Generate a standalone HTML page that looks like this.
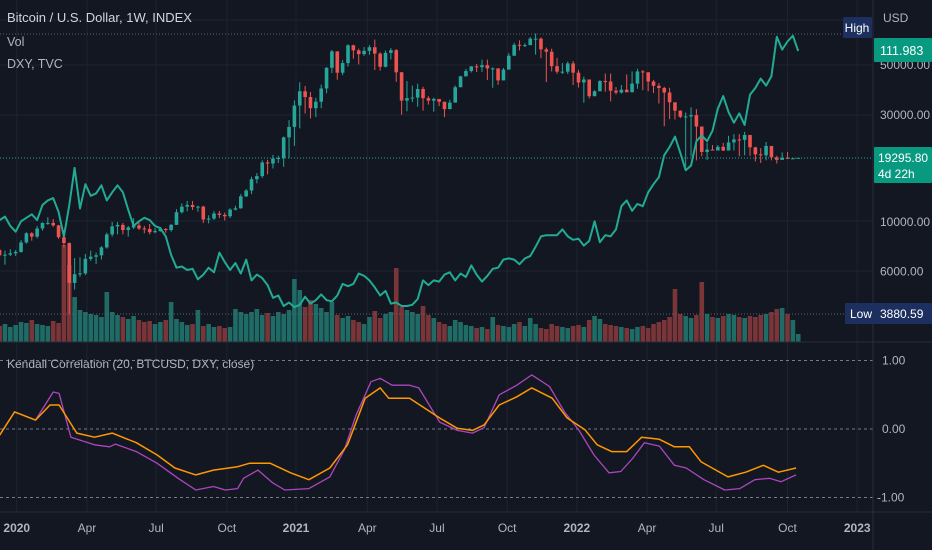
<!DOCTYPE html>
<html><head><meta charset="utf-8"><style>
html,body{margin:0;padding:0;background:#131722;}
svg{display:block;font-family:"Liberation Sans",sans-serif;}
</style></head><body>
<svg id="c" width="932" height="550" viewBox="0 0 932 550">
<rect x="0" y="0" width="932" height="550" fill="#131722"/>
<g id="grid"></g>
<g id="vol"></g>
<g id="candles"></g>
<g id="dxy"></g>
<g id="corr"></g>
<g id="axes"></g>
</svg>
<script>
const closes=[7100,7150,7250,7350,8100,8900,8600,9350,9900,9900,9650,8550,8050,5350,5850,5900,6850,7000,7100,7700,8800,9550,9700,9200,9450,9650,9350,9300,9000,9100,9300,9200,9700,11050,11700,11900,11650,11700,10250,10350,10900,10750,10600,11350,11500,13000,13800,15500,16000,18400,18200,19150,19250,23800,26500,33000,38200,36000,32100,34300,39300,48600,57500,46200,51000,61200,58100,55900,57800,60000,56200,49100,56600,58200,46400,34700,35600,35800,39100,35600,34700,35300,34300,31800,34000,39800,44500,47000,49300,48900,49900,48300,48300,42700,47700,55000,61500,61000,61300,65500,65500,58700,57300,49400,46700,46700,50800,46200,41800,43100,36300,38200,42400,42200,38400,37700,38800,37800,41300,46800,46400,42200,40400,39500,37700,34100,31300,29400,29500,29900,26600,20500,21000,20800,21600,20800,22600,23300,23200,24400,21500,20000,19800,21800,19400,18900,19300,19100,19200,19296];
const highs=[7650,7450,7550,7500,8300,9000,9000,9600,9950,10500,10300,9700,9200,8100,6900,6950,7200,7450,7300,7800,8950,10000,10000,9900,9600,10400,9950,9600,9800,9400,9500,9400,9800,11400,12100,12400,12400,11800,11800,10700,11200,11200,11000,11500,11800,13300,14000,15900,16500,18800,18900,19900,19700,24000,28400,34800,41900,40300,37900,35700,40900,48900,58300,57400,52600,61800,61600,59100,60100,61300,64900,57000,58000,59500,58900,46600,42400,40500,41300,40000,36300,35800,34800,34300,35000,40500,44700,48100,49400,50500,52800,52900,48800,45300,48500,56500,62800,64400,62500,66600,69000,66300,59800,59100,53800,51000,51800,52100,47600,44400,42300,38600,42800,45800,45800,39900,40700,45400,46800,48100,47500,42600,42900,41500,40000,39600,32600,31400,30700,32400,31800,23000,22500,22000,22000,22500,24200,24600,24600,25200,22000,21600,21300,22700,20500,19700,20400,20500,19300];
const lows=[6950,6450,7050,7050,7300,8000,8250,8450,9150,9700,9500,8400,7700,3850,5000,5700,5800,6700,6500,6800,7600,8600,8800,8800,8600,9300,9200,8900,8800,8900,9050,8950,9050,9700,10900,11150,11300,11100,9900,9850,10200,10400,10150,10400,11250,11450,12900,13300,14850,15700,16300,17300,18300,17600,19200,21800,26100,30400,28900,29300,32100,37400,46000,43000,45000,49200,53300,50300,54900,55500,47500,47200,48800,52900,42100,30000,31100,34200,32600,31300,33300,31000,32800,29300,31900,37600,43800,45000,46300,46500,46600,42900,39600,40800,46900,53800,59600,58100,60100,62500,55600,53600,42000,46800,45700,45600,45600,40700,39700,34000,35500,37200,38400,38000,34400,37000,37300,41000,42900,39200,38600,38200,37500,33700,26700,28700,28600,29000,17600,19600,18800,19600,18900,21000,20800,20700,22600,20800,19600,19800,19700,18600,18300,18800,18800,18200,19000];
const volumes=[16,18,15,17,20,19,22,18,17,16,21,19,97,77,45,32,30,28,27,25,50,30,27,25,23,26,22,20,21,18,20,22,40,23,20,17,18,32,16,18,15,16,14,15,33,30,28,30,33,27,29,26,30,28,32,63,52,35,42,38,34,30,40,27,24,26,22,20,18,25,31,24,28,30,74,35,32,30,28,36,27,24,20,18,16,22,20,17,16,14,15,13,25,17,16,15,18,20,16,24,18,14,13,18,16,15,14,16,17,15,22,26,23,18,17,16,15,14,13,15,16,14,18,20,22,25,53,28,26,24,27,60,28,25,24,26,28,27,25,24,26,25,27,28,30,33,34,28,22,8];
const dxy=[97.4,97.7,96.9,96.4,97.3,97.6,97.9,97.4,98.7,99.1,99.3,98.1,96.0,98.7,101.9,98.4,100.5,99.5,99.7,100.4,99.1,99.8,100.4,99.8,98.3,96.9,97.3,97.6,97.4,96.9,96.7,96.0,94.4,93.3,93.4,93.1,93.2,92.3,92.7,93.3,92.9,94.6,93.8,93.1,93.7,92.8,94.0,92.2,92.7,92.4,91.8,90.7,90.9,90.0,90.3,89.9,90.1,90.8,90.2,90.5,91.0,90.5,90.4,90.9,91.9,91.7,91.9,92.8,92.6,92.2,91.6,90.9,91.3,90.2,90.3,90.0,90.0,90.1,90.6,92.2,91.8,92.2,92.1,92.7,92.9,92.2,92.8,92.5,93.5,92.7,92.1,92.6,93.2,93.3,94.0,94.1,94.0,93.6,94.1,94.3,95.1,96.0,96.1,96.1,96.1,96.6,96.0,95.7,95.8,95.2,95.6,97.3,95.5,96.1,96.0,96.6,98.6,99.1,98.2,98.8,98.6,99.8,100.5,101.1,103.0,103.7,104.6,103.2,101.7,102.1,104.2,104.7,104.2,105.1,107.0,108.1,106.7,105.8,106.6,105.6,108.2,108.8,109.6,109.0,109.8,113.2,112.1,112.8,113.3,111.98];
const orangeWeeks=[0,2.8,6.7,9.4,11.1,14.4,17.7,21,25.5,29.4,32.7,36.6,39.9,44.4,46.6,50.5,54.3,57.7,61.6,64.9,68.2,71,72.6,76.5,82.1,85.4,88.2,90.4,93.2,96.5,99.3,103.1,105.9,109.2,111.5,114.2,117,119.8,123.1,125.9,128.7,130.9,135.9,139.2,142.5,145.3,148.6];
const orangeVals=[-0.09,0.25,0.13,0.35,0.35,-0.06,-0.12,-0.06,-0.2,-0.38,-0.57,-0.67,-0.6,-0.55,-0.5,-0.5,-0.64,-0.74,-0.57,-0.23,0.45,0.6,0.45,0.45,0.16,0.01,-0.02,0.06,0.35,0.47,0.6,0.45,0.16,-0.01,-0.23,-0.33,-0.33,-0.12,-0.15,-0.26,-0.26,-0.48,-0.7,-0.63,-0.53,-0.63,-0.57];
const purpleWeeks=[0,2.8,6.7,10,11.1,13.3,17.7,20.5,21.6,25.5,29.4,33.3,36.6,39.9,42.1,44.4,45.5,48.2,51,53.2,57.7,61.6,64.3,66.5,69.3,71,73.2,76.5,78.2,82.1,85.4,88.2,90.4,93.2,96.5,99.3,102.6,105.4,108.1,110.9,113.7,115.9,118.1,120.3,123.1,125.9,128.1,131.4,135.3,138.1,140.9,143.6,145.8,148.6];
const purpleVals=[-0.09,0.25,0.13,0.54,0.52,-0.12,-0.23,-0.26,-0.22,-0.33,-0.5,-0.72,-0.89,-0.84,-0.89,-0.87,-0.72,-0.6,-0.79,-0.89,-0.87,-0.7,-0.31,0.2,0.69,0.74,0.64,0.64,0.6,0.1,-0.02,-0.06,0.02,0.5,0.64,0.79,0.62,0.25,-0.02,-0.38,-0.64,-0.62,-0.43,-0.2,-0.25,-0.53,-0.57,-0.74,-0.89,-0.87,-0.74,-0.72,-0.77,-0.67];
const priceTicks=[50000,30000,10000,6000];
const priceTickLabels=["50000.00","30000.00","10000.00","6000.00"];
const corrTicks=[1,0,-1];
const corrTickLabels=["1.00","0.00","-1.00"];
const timeLabels=["2020","Apr","Jul","Oct","2021","Apr","Jul","Oct","2022","Apr","Jul","Oct","2023"];
const timeLabelWeeks=[3.2,16.3,29.2,42.4,55.3,68.6,81.6,94.7,107.7,120.8,133.7,147,160];

const NS="http://www.w3.org/2000/svg";
function mk(tag,attrs,parent){const e=document.createElementNS(NS,tag);for(const k in attrs)e.setAttribute(k,attrs[k]);parent.appendChild(e);return e;}
const xW=i=>-0.4+i*5.36;
const yP=p=>65+(Math.log(50000)-Math.log(p))*97.5;
const yD=v=>51+(111.98-v)*11.6;
const yC=v=>429-v*68.5;
const yV=v=>342-v;
const G=id=>document.getElementById(id);
const PR=873;
const grid=G('grid');
[20,65,115,221,271].forEach(y=>{const l=mk('line',{x1:0,x2:PR,y1:y,y2:y,stroke:'#1f2330','stroke-width':1},grid);});
timeLabelWeeks.forEach(w=>{const x=xW(w);const l=mk('line',{x1:x,x2:x,y1:0,y2:512,stroke:'#1f2330','stroke-width':1},grid);});
const vg=G('vol');
for(let i=0;i<volumes.length;i++){const o=i?closes[i-1]:7500;const up=closes[i]>=o;const y=yV(volumes[i]);
const r=mk('rect',{x:xW(i)-2.3,y:y,width:4.6,height:342-y,fill:up?'#1f6b65':'#7a3538'},vg);
}
const ax=G('axes');
[[34,'#5d606b','high-line'],[314,'#5d606b','low-line'],[158,'#26a69a','last-price-line']].forEach(a=>{const l=mk('line',{x1:0,x2:PR,y1:a[0],y2:a[0],stroke:a[1],'stroke-width':1,'stroke-dasharray':'1 2'},ax);});
const cg=G('candles');
for(let i=0;i<closes.length;i++){const o=i?closes[i-1]:7500,c=closes[i];const up=c>=o;const col=up?'#26a69a':'#ef5350';
const h=highs[i]!==undefined?Math.max(highs[i],o,c):Math.max(o,c);const lo=lows[i]!==undefined?Math.min(lows[i],o,c):Math.min(o,c);
const x=xW(i);
const w=mk('line',{x1:x,x2:x,y1:yP(h),y2:yP(lo),stroke:col,'stroke-width':1},cg);
const t=Math.min(yP(o),yP(c));const bh=Math.max(1,Math.abs(yP(o)-yP(c)));
const b=mk('rect',{x:x-1.8,y:t,width:3.6,height:bh,fill:col},cg);}
const dp=dxy.map((v,i)=>xW(i).toFixed(1)+','+yD(v).toFixed(1)).join(' ');
const dl=mk('polyline',{points:dp,fill:'none',stroke:'#22ab94','stroke-width':2,'stroke-linejoin':'round'},G('dxy'));

const cp=G('corr');
corrTicks.forEach(v=>{const l=mk('line',{x1:0,x2:PR,y1:yC(v),y2:yC(v),stroke:'#787b86','stroke-width':1,'stroke-dasharray':'3 3'},cp);});
const pp=purpleWeeks.map((w,i)=>xW(w).toFixed(1)+','+yC(purpleVals[i]).toFixed(1)).join(' ');
const pl=mk('polyline',{points:pp,fill:'none',stroke:'#ab47bc','stroke-width':1.3,'stroke-linejoin':'round'},cp);
const op=orangeWeeks.map((w,i)=>xW(w).toFixed(1)+','+yC(orangeVals[i]).toFixed(1)).join(' ');
const ol=mk('polyline',{points:op,fill:'none',stroke:'#ff9800','stroke-width':1.5,'stroke-linejoin':'round'},cp);
[[0,342,PR,342],[0,512,932,512],[PR,0,PR,550],[PR,342,932,342]].forEach(s=>{const l=mk('line',{x1:s[0],y1:s[1],x2:s[2],y2:s[3],stroke:'#2a2e39','stroke-width':1},ax);});
function txt(s,x,y,attrs,name,inter){const t=mk('text',Object.assign({x:x,y:y,fill:'#b2b5be','font-size':12},attrs||{}),ax);t.textContent=s;return t;}
priceTicks.forEach((p,i)=>txt(priceTickLabels[i],880,yP(p)+4,{},'price-tick-label'));
corrTicks.forEach((v,i)=>txt(corrTickLabels[i],v<0?877:882,yC(v)+4,{},'corr-tick-label'));
timeLabels.forEach((s,i)=>txt(s,xW(timeLabelWeeks[i]),532,{'text-anchor':'middle','font-weight':/^\d/.test(s)?'bold':'normal','fill':'#b2b5be'},'time-tick-label'));
txt('USD',883,22,{},'currency-label');
txt('Bitcoin / U.S. Dollar, 1W, INDEX',7,22,{'fill':'#d1d4dc','font-size':13},'chart-title',true);
txt('Vol',7,46,{'font-size':12.5},'volume-legend',true);
txt('DXY, TVC',7,68,{'font-size':12.5},'dxy-legend',true);
txt('Kendall Correlation (20, BTCUSD, DXY, close)',7,368,{'font-size':12},'indicator-title',true);
function badge(x,y,w,h,fill,name){const r=mk('rect',{x:x,y:y,width:w,height:h,fill:fill,rx:1},ax);}
badge(843,17,29,21,'#1c2f5e','high-badge');txt('High',857,32,{'fill':'#fff','text-anchor':'middle'},'high-badge-text');
badge(874,38,58,24,'#089981','dxy-price-badge');txt('111.983',880,55,{'fill':'#fff','font-size':12.5},'dxy-price-text');
badge(874,147,58,36,'#089981','last-price-badge');txt('19295.80',878,162,{'fill':'#fff','font-size':12},'last-price-text');txt('4d 22h',878,178,{'fill':'#fff','font-size':12},'countdown-text');
badge(845,303,87,21,'#1c2f5e','low-badge');txt('Low',850,318,{'fill':'#fff'},'low-badge-text');txt('3880.59',880,318,{'fill':'#fff'},'low-price-text');
</script>
</body></html>
